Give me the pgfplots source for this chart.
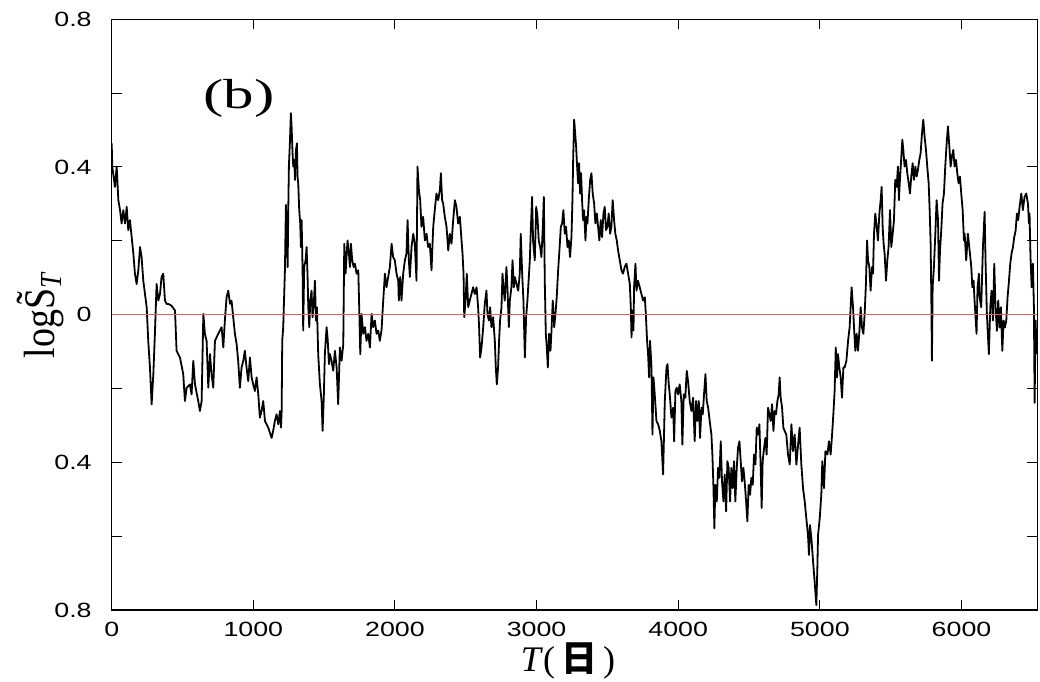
\documentclass[border=0pt]{standalone}
\usepackage{pgfplots}
\pgfplotsset{compat=1.18}
\usepackage{graphicx}
\usepackage{fontspec}
\setmainfont{Liberation Serif}
\newfontfamily\tickfont{Liberation Sans}[FakeStretch=1.3]
\newfontfamily\cjk{Noto Sans CJK SC}
\definecolor{zred}{RGB}{240,90,90}
\begin{document}
\begin{tikzpicture}
\begin{axis}[name=ax, scale only axis, width=462.8pt, height=295.35pt,
  xmin=0, xmax=6535, ymin=-0.8, ymax=0.8,
  axis line style={line width=0.6pt},
  tick style={black, line width=0.5pt},
  major tick length=5pt, minor tick length=5pt,
  tick align=inside,
  xtick={0,1000,...,6000},
  ytick={-0.8,-0.4,0,0.4,0.8},
  yticklabels={0.8,0.4,0,0.4,0.8},
  minor ytick={-0.6,-0.2,0.2,0.6},
  /pgf/number format/assume math mode=true,
  /pgf/number format/1000 sep={},
  tick label style={font=\tickfont\fontsize{10.3}{12}\selectfont},
  xticklabel style={yshift=-2.7pt},
  yticklabel style={xshift=-6.5pt},
  xlabel={\fontsize{18}{20}\selectfont\textit{T}(\,{\cjk\bfseries 日}\,)},
  xlabel style={at={(axis description cs:0.493,-0.055)}, anchor=north, inner sep=0pt},
  ylabel={\scalebox{1}[1.15]{\fontsize{19}{20}\selectfont log\~{S}\textsubscript{\textit{T}}}},
  ylabel style={at={(axis description cs:-0.0613,0.5)}, anchor=base, inner sep=0pt},
]
\addplot[black, line width=0.9pt, line join=round] coordinates {
(0,0.464) (4,0.401) (23,0.346) (35,0.401) (47,0.310) (59,0.283) (70,0.247) (82,0.283) (94,0.247) (106,0.292)
(117,0.229) (129,0.256) (141,0.210) (153,0.165) (164,0.111) (176,0.083) (188,0.120) (200,0.183) (211,0.156) (223,0.092)
(235,0.056) (247,0.020) (258,-0.071) (270,-0.143) (282,-0.243) (294,-0.161) (305,-0.052) (317,0.083) (329,0.038) (341,0.056)
(352,0.102) (364,0.111) (376,0.038) (388,0.029) (400,0.029) (423,0.024) (447,0.011) (458,-0.098) (482,-0.116) (505,-0.161)
(517,-0.234) (529,-0.198) (552,-0.189) (564,-0.216) (576,-0.125) (588,-0.189) (611,-0.234) (623,-0.261) (635,-0.234) (647,0.002)
(658,-0.052) (670,-0.071) (682,-0.198) (694,-0.107) (705,-0.161) (717,-0.198) (729,-0.071) (752,-0.052) (776,-0.034) (788,-0.089)
(799,-0.016) (811,0.047) (823,0.065) (835,0.029) (846,0.038) (858,-0.007) (870,-0.052) (882,-0.080) (893,-0.125) (905,-0.198)
(917,-0.143) (929,-0.125) (940,-0.098) (952,-0.143) (964,-0.180) (976,-0.116) (988,-0.170) (999,-0.189) (1011,-0.207) (1023,-0.170)
(1035,-0.216) (1046,-0.279) (1058,-0.261) (1070,-0.234) (1082,-0.288) (1105,-0.306) (1129,-0.334) (1140,-0.315) (1152,-0.288) (1164,-0.270)
(1176,-0.297) (1188,-0.261) (1195,-0.306) (1200,-0.261) (1204,-0.071) (1211,-0.034) (1223,0.120) (1230,0.297) (1237,0.220) (1242,0.129)
(1247,0.292) (1251,0.401) (1258,0.464) (1265,0.546) (1270,0.510) (1277,0.437) (1282,0.401) (1289,0.419) (1294,0.365) (1301,0.446)
(1308,0.464) (1312,0.374) (1317,0.356) (1324,0.283) (1331,0.247) (1336,0.183) (1341,0.256) (1348,0.111) (1352,-0.043) (1359,0.129)
(1369,0.147) (1376,0.183) (1383,0.102) (1388,0.020) (1395,-0.034) (1402,0.038) (1411,0.065) (1418,-0.007) (1428,0.038) (1435,0.092)
(1442,-0.016) (1449,0.020) (1458,-0.107) (1470,-0.189) (1482,-0.234) (1489,-0.315) (1498,-0.216) (1505,-0.107) (1517,-0.034) (1524,-0.062)
(1534,-0.134) (1541,-0.107) (1552,-0.125) (1564,-0.152) (1576,-0.098) (1588,-0.143) (1599,-0.243) (1611,-0.089) (1623,-0.125) (1635,-0.080)
(1642,0.192) (1651,0.111) (1665,0.201) (1675,0.165) (1682,0.129) (1689,0.192) (1698,0.147) (1708,0.129) (1717,0.138) (1729,0.111)
(1741,0.120) (1748,0.011) (1755,-0.107) (1764,0.002) (1776,-0.052) (1788,-0.034) (1799,-0.071) (1811,-0.052) (1823,-0.089) (1835,0.002)
(1846,-0.034) (1858,-0.016) (1870,-0.052) (1882,-0.043) (1893,-0.071) (1905,-0.043) (1917,0.038) (1929,0.111) (1940,0.074) (1952,0.102)
(1964,0.129) (1976,0.192) (1987,0.156) (1999,0.147) (2011,0.111) (2023,0.092) (2027,0.038) (2037,0.102) (2046,0.038) (2058,0.111)
(2070,0.147) (2081,0.165) (2089,0.256) (2098,0.147) (2105,0.102) (2117,0.183) (2129,0.219) (2140,0.192) (2152,0.092) (2159,0.401)
(2169,0.337) (2178,0.310) (2187,0.238) (2199,0.265) (2211,0.201) (2223,0.219) (2234,0.183) (2246,0.192) (2258,0.120) (2270,0.238)
(2281,0.283) (2293,0.328) (2305,0.310) (2317,0.337) (2324,0.383) (2333,0.310) (2340,0.301) (2352,0.265) (2364,0.238) (2376,0.174)
(2387,0.219) (2399,0.192) (2411,0.256) (2423,0.310) (2434,0.292) (2446,0.247) (2458,0.265) (2470,0.201) (2477,0.165) (2484,0.111)
(2489,-0.007) (2498,0.038) (2507,0.111) (2517,0.020) (2528,0.038) (2540,0.056) (2552,0.074) (2564,0.056) (2576,0.074) (2587,0.020)
(2594,-0.034) (2601,-0.116) (2611,-0.089) (2623,-0.034) (2634,0.029) (2646,0.065) (2653,0.002) (2663,-0.016) (2672,0.020) (2681,-0.034)
(2693,-0.007) (2705,-0.071) (2712,-0.143) (2719,-0.189) (2728,-0.143) (2735,-0.071) (2742,-0.016) (2752,0.020) (2759,0.111) (2766,0.074)
(2775,0.038) (2787,0.129) (2794,0.074) (2804,-0.034) (2811,0.038) (2822,0.074) (2830,0.147) (2839,0.074) (2846,0.102) (2858,0.083)
(2870,0.065) (2881,0.111) (2888,0.219) (2898,0.111) (2907,0.038) (2917,-0.116) (2926,-0.007) (2935,0.038) (2945,0.102) (2952,0.147)
(2959,0.229) (2968,0.319) (2975,0.201) (2987,0.147) (2997,0.292) (3006,0.265) (3015,0.201) (3025,0.183) (3034,0.156) (3044,0.238)
(3051,0.319) (3058,0.083) (3065,-0.052) (3072,-0.089) (3079,-0.143) (3088,-0.052) (3098,-0.098) (3105,-0.043) (3114,0.038) (3124,-0.034)
(3133,0.002) (3142,0.047) (3152,0.120) (3161,0.174) (3171,0.238) (3180,0.247) (3189,0.283) (3199,0.219) (3208,0.238) (3218,0.183)
(3227,0.201) (3236,0.156) (3246,0.210) (3253,0.310) (3258,0.419) (3265,0.528) (3272,0.492) (3279,0.455) (3286,0.401) (3293,0.356)
(3300,0.410) (3307,0.328) (3314,0.383) (3321,0.310) (3328,0.256) (3335,0.283) (3345,0.201) (3352,0.265) (3359,0.247) (3368,0.310)
(3378,0.365) (3387,0.383) (3396,0.328) (3406,0.301) (3415,0.247) (3425,0.274) (3434,0.238) (3443,0.201) (3453,0.256) (3462,0.210)
(3472,0.274) (3481,0.292) (3490,0.229) (3500,0.238) (3509,0.274) (3519,0.219) (3528,0.238) (3537,0.310) (3547,0.256) (3556,0.219)
(3566,0.201) (3575,0.174) (3587,0.147) (3599,0.120) (3610,0.111) (3622,0.129) (3634,0.138) (3646,0.111) (3658,0.083) (3665,0.020)
(3670,-0.062) (3677,0.011) (3684,-0.043) (3688,0.074) (3698,0.138) (3705,0.065) (3716,0.092) (3728,0.074) (3740,0.056) (3752,0.038)
(3764,0.047) (3771,0.002) (3780,-0.071) (3787,-0.107) (3794,-0.170) (3801,-0.071) (3811,-0.143) (3818,-0.325) (3825,-0.170) (3834,-0.216)
(3846,-0.288) (3858,-0.297) (3870,-0.315) (3881,-0.343) (3893,-0.433) (3905,-0.234) (3917,-0.143) (3924,-0.134) (3933,-0.189) (3940,-0.216)
(3952,-0.279) (3964,-0.252) (3971,-0.343) (3980,-0.207) (3989,-0.198) (3999,-0.216) (4010,-0.189) (4022,-0.234) (4029,-0.352) (4039,-0.216)
(4050,-0.225) (4060,-0.152) (4069,-0.180) (4081,-0.234) (4093,-0.261) (4105,-0.225) (4116,-0.343) (4126,-0.234) (4135,-0.288) (4145,-0.234)
(4154,-0.334) (4164,-0.252) (4173,-0.270) (4182,-0.216) (4192,-0.161) (4201,-0.234) (4211,-0.252) (4222,-0.288) (4234,-0.325) (4241,-0.379)
(4248,-0.461) (4255,-0.579) (4262,-0.461) (4272,-0.506) (4281,-0.415) (4290,-0.442) (4300,-0.343) (4309,-0.452) (4319,-0.506) (4328,-0.433)
(4338,-0.533) (4347,-0.397) (4356,-0.415) (4366,-0.506) (4375,-0.415) (4385,-0.470) (4394,-0.397) (4403,-0.506) (4413,-0.415) (4422,-0.361)
(4432,-0.343) (4441,-0.397) (4450,-0.452) (4460,-0.415) (4469,-0.452) (4479,-0.506) (4488,-0.560) (4497,-0.461) (4507,-0.488) (4516,-0.442)
(4526,-0.461) (4535,-0.379) (4545,-0.406) (4554,-0.306) (4563,-0.325) (4573,-0.297) (4582,-0.415) (4589,-0.524) (4596,-0.397) (4606,-0.361)
(4615,-0.334) (4624,-0.379) (4634,-0.252) (4643,-0.270) (4653,-0.288) (4662,-0.243) (4672,-0.315) (4681,-0.261) (4690,-0.270) (4700,-0.234)
(4709,-0.216) (4716,-0.170) (4723,-0.225) (4733,-0.252) (4742,-0.306) (4751,-0.315) (4763,-0.325) (4775,-0.379) (4787,-0.406) (4799,-0.297)
(4810,-0.370) (4822,-0.325) (4834,-0.406) (4846,-0.352) (4857,-0.306) (4869,-0.406) (4881,-0.470) (4893,-0.506) (4904,-0.551) (4916,-0.597)
(4923,-0.651) (4930,-0.570) (4940,-0.606) (4952,-0.669) (4963,-0.724) (4975,-0.787) (4982,-0.688) (4987,-0.597) (4999,-0.551) (5010,-0.488)
(5017,-0.397) (5029,-0.470) (5039,-0.370) (5053,-0.379) (5064,-0.343) (5076,-0.379) (5086,-0.325) (5095,-0.270) (5104,-0.207) (5112,-0.089)
(5121,-0.170) (5128,-0.107) (5137,-0.143) (5147,-0.170) (5156,-0.225) (5166,-0.143) (5175,-0.143) (5187,-0.125) (5199,-0.071) (5210,-0.034)
(5217,0.020) (5224,0.074) (5234,0.020) (5241,-0.034) (5250,-0.098) (5260,-0.052) (5269,-0.098) (5278,-0.052) (5288,0.020) (5297,-0.034)
(5307,-0.052) (5316,0.002) (5325,0.083) (5333,0.201) (5340,0.147) (5349,0.129) (5358,0.065) (5368,0.129) (5375,0.111) (5382,0.219)
(5391,0.274) (5401,0.238) (5410,0.201) (5420,0.274) (5429,0.310) (5436,0.346) (5443,0.238) (5450,0.192) (5457,0.165) (5467,0.092)
(5476,0.147) (5485,0.183) (5495,0.283) (5504,0.183) (5514,0.219) (5523,0.256) (5532,0.365) (5542,0.346) (5551,0.401) (5558,0.310)
(5565,0.365) (5575,0.428) (5582,0.474) (5589,0.446) (5598,0.401) (5608,0.419) (5617,0.383) (5627,0.356) (5636,0.328) (5645,0.374)
(5655,0.410) (5664,0.365) (5674,0.401) (5683,0.374) (5692,0.392) (5702,0.419) (5711,0.437) (5721,0.492) (5730,0.528) (5739,0.483)
(5749,0.446) (5758,0.401) (5768,0.356) (5775,0.283) (5782,0.192) (5787,0.038) (5791,-0.125) (5796,0.074) (5805,0.129) (5815,0.219)
(5824,0.310) (5834,0.256) (5841,0.092) (5848,0.174) (5857,0.229) (5866,0.301) (5876,0.328) (5885,0.401) (5895,0.464) (5904,0.510)
(5914,0.455) (5923,0.401) (5932,0.428) (5942,0.446) (5951,0.401) (5961,0.419) (5970,0.383) (5979,0.356) (5989,0.374) (5998,0.328)
(6008,0.283) (6017,0.201) (6022,0.219) (6033,0.147) (6045,0.219) (6057,0.174) (6069,0.129) (6076,0.074) (6085,0.092) (6092,0.038)
(6099,-0.007) (6106,-0.052) (6113,0.074) (6123,0.111) (6128,0.047) (6139,0.020) (6151,0.183) (6163,0.278) (6170,0.138) (6179,0.002)
(6186,-0.053) (6193,-0.107) (6203,0.020) (6212,0.065) (6222,-0.016) (6231,0.138) (6240,0.020) (6250,-0.044) (6259,0.038) (6269,-0.035)
(6278,0.020) (6288,-0.098) (6297,-0.016) (6306,-0.035) (6316,-0.016) (6325,0.047) (6335,0.092) (6344,0.138) (6353,0.165) (6363,0.183)
(6372,0.210) (6382,0.228) (6391,0.274) (6400,0.256) (6410,0.292) (6422,0.328) (6433,0.283) (6445,0.319) (6457,0.328) (6469,0.301)
(6476,0.247) (6480,0.274) (6487,0.156) (6495,0.074) (6504,0.138) (6511,0.020) (6516,-0.239) (6523,-0.016) (6530,-0.107)
};
\addplot[zred, line width=0.5pt] coordinates {(0,0) (6535,0)};
\node[inner sep=0pt] at (axis cs:898,0.585) {\scalebox{1.45}[1]{\fontsize{21}{24}\selectfont (b)}};
\end{axis}
\pgfresetboundingbox
\path[use as bounding box] ([xshift=-55.85pt,yshift=-36pt]ax.south west) rectangle ([xshift=1.35pt,yshift=9.65pt]ax.north east);
\end{tikzpicture}
\end{document}
